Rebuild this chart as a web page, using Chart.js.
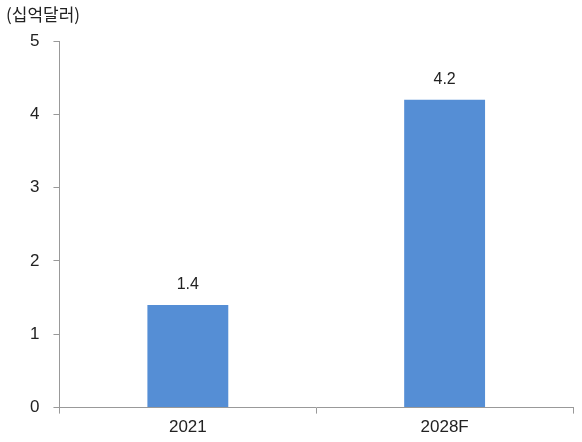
<!DOCTYPE html>
<html><head><meta charset="utf-8">
<script src="https://cdn.jsdelivr.net/npm/chart.js@4"></script>
<style>html,body{margin:0;padding:0;background:#fff}#w{width:582px;height:442px;position:relative}</style>
</head><body><div id="w"><canvas id="c"></canvas></div>
<script>
const categories=["2021","2028F"];
const values=[1.4,4.2];
const yTicks=[0,1,2,3,4,5];
const unitLabel="(십억달러)";
const font="'Liberation Sans','Noto Sans CJK KR',sans-serif";
const labelPlugin={id:'lbl',afterDatasetsDraw(ch){const c=ch.ctx;const m=ch.getDatasetMeta(0);c.save();c.font="16px "+font;c.fillStyle="#222";c.textAlign="center";c.textBaseline="bottom";m.data.forEach((b,i)=>{c.fillText(values[i].toFixed(1),b.x,b.y-12);});
c.font="17px 'Noto Sans CJK KR',sans-serif";c.textAlign="left";c.textBaseline="middle";c.fillText(unitLabel,6,15);c.restore();}};
new Chart(document.getElementById('c'),{type:'bar',
data:{labels:categories,datasets:[{data:values,backgroundColor:'#558ED5',categoryPercentage:1,barPercentage:0.315}]},
options:{responsive:true,maintainAspectRatio:false,animation:false,
layout:{padding:{top:41,right:9,left:16,bottom:0}},
plugins:{legend:{display:false},tooltip:{enabled:false}},
scales:{x:{grid:{display:true,drawOnChartArea:false,offset:true,color:'#999',tickLength:6},border:{color:'#999'},ticks:{color:'#222',padding:4,font:{size:17,family:font}}},
y:{min:0,max:5,afterBuildTicks(s){s.ticks=yTicks.map(v=>({value:v}));},grid:{drawOnChartArea:false,color:'#999',tickLength:6},border:{color:'#999'},ticks:{color:'#222',padding:14,font:{size:17,family:font}}}}},
plugins:[labelPlugin]});
</script></body></html>
